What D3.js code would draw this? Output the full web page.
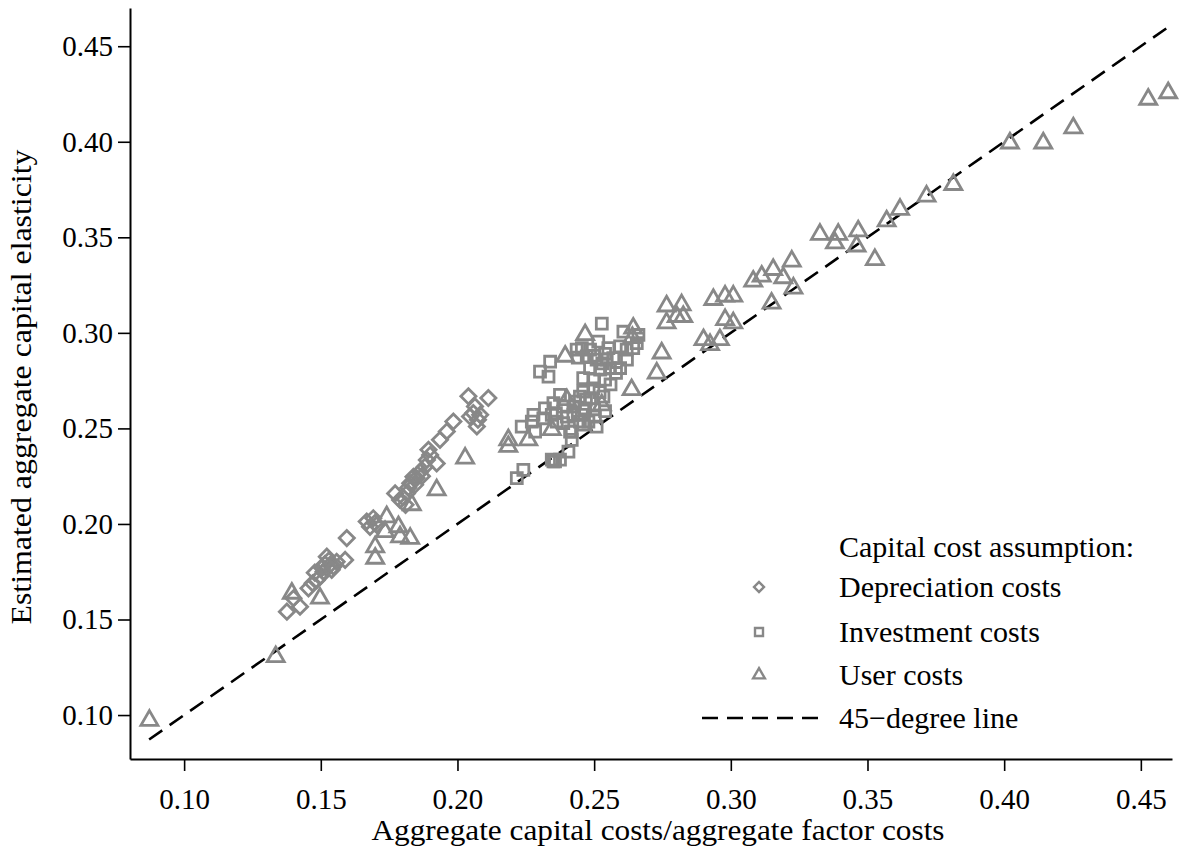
<!DOCTYPE html>
<html>
<head>
<meta charset="utf-8">
<script src="https://cdn.jsdelivr.net/npm/d3@7"></script>
<style>
  body { margin: 0; background: #fff; }
  svg { display: block; font-family: "Liberation Serif", "DejaVu Serif", serif; }
</style>
</head>
<body>
<script>
// data: [capital cost share, estimated elasticity]
const depreciation = [
  [0.1376,0.1541],[0.1424,0.1567],[0.1400,0.1611],[0.1455,0.1663],[0.1485,0.1706],[0.1497,0.1724],
  [0.1510,0.1750],[0.1534,0.1786],[0.1522,0.1829],[0.1546,0.1776],[0.1558,0.1802],[0.1589,0.1812],
  [0.1595,0.1926],[0.1470,0.1690],[0.1515,0.1790],[0.1530,0.1810],[0.1505,0.1770],[0.1540,0.1760],
  [0.1478,0.1745],[0.1668,0.2013],[0.1692,0.2030],[0.1705,0.1995],[0.1680,0.1985],[0.1698,0.2005],
  [0.1772,0.2160],[0.1790,0.2126],[0.1815,0.2160],[0.1827,0.2213],[0.1839,0.2247],[0.1863,0.2273],
  [0.1881,0.2300],[0.1888,0.2335],[0.1900,0.2361],[0.1924,0.2317],[0.1894,0.2388],[0.1936,0.2440],
  [0.1961,0.2484],[0.1985,0.2536],[0.1820,0.2190],[0.1850,0.2240],[0.1800,0.2140],[0.1845,0.2205],
  [0.1870,0.2250],[0.1810,0.2100],[0.2040,0.2668],[0.2113,0.2659],[0.2064,0.2615],[0.2046,0.2562],
  [0.2083,0.2571],[0.2071,0.2510],[0.2058,0.2580],[0.2075,0.2545]
];
const investment = [
  [0.2217,0.2240],[0.2241,0.2283],[0.2351,0.2327],[0.2375,0.2336],[0.2345,0.2336],[0.2357,0.2327],
  [0.2406,0.2378],[0.2418,0.2440],[0.2418,0.2483],[0.2509,0.2509],[0.2235,0.2509],[0.2284,0.2483],
  [0.2272,0.2536],[0.2278,0.2571],[0.2314,0.2553],[0.2345,0.2571],[0.2320,0.2605],[0.2351,0.2632],
  [0.2387,0.2614],[0.2424,0.2614],[0.2400,0.2562],[0.2424,0.2571],[0.2455,0.2571],[0.2467,0.2605],
  [0.2503,0.2562],[0.2448,0.2536],[0.2479,0.2536],[0.2387,0.2527],[0.2363,0.2536],[0.2412,0.2483],
  [0.2375,0.2676],[0.2448,0.2666],[0.2485,0.2658],[0.2534,0.2666],[0.2497,0.2710],[0.2460,0.2692],
  [0.2460,0.2763],[0.2497,0.2755],[0.2540,0.2755],[0.2485,0.2816],[0.2522,0.2807],[0.2558,0.2816],
  [0.2595,0.2816],[0.2570,0.2868],[0.2546,0.2860],[0.2509,0.2860],[0.2473,0.2877],[0.2436,0.2912],
  [0.2455,0.2920],[0.2485,0.2912],[0.2515,0.2954],[0.2552,0.2920],[0.2595,0.2929],[0.2619,0.2912],
  [0.2643,0.2920],[0.2656,0.2946],[0.2662,0.2989],[0.2607,0.3006],[0.2528,0.3048],[0.2302,0.2797],
  [0.2339,0.2849],[0.2333,0.2771],[0.2530,0.2840],[0.2580,0.2790],[0.2620,0.2860],[0.2500,0.2880],
  [0.2440,0.2870],[0.2560,0.2730],[0.2520,0.2690],[0.2430,0.2640],[0.2460,0.2520],[0.2500,0.2600],
  [0.2540,0.2590],[0.2360,0.2580],[0.2470,0.2650],[0.2540,0.2890]
];
const userCosts = [
  [0.0873,0.0972],[0.1335,0.1305],[0.1394,0.1637],[0.1497,0.1611],[0.1699,0.1880],[0.1699,0.1820],
  [0.1741,0.2037],[0.1735,0.1959],[0.1784,0.1985],[0.1790,0.1932],[0.1827,0.1924],[0.1833,0.2100],
  [0.1924,0.2178],[0.2028,0.2344],[0.2186,0.2440],[0.2186,0.2405],[0.2259,0.2440],[0.2345,0.2493],
  [0.2400,0.2650],[0.2528,0.2623],[0.2394,0.2877],[0.2467,0.2990],[0.2643,0.3024],[0.2640,0.2975],
  [0.2637,0.2702],[0.2729,0.2789],[0.2747,0.2894],[0.2765,0.3052],[0.2765,0.3140],[0.2802,0.3085],
  [0.2826,0.3085],[0.2820,0.3146],[0.2900,0.2964],[0.2924,0.2938],[0.2960,0.2964],[0.2979,0.3069],
  [0.3009,0.3052],[0.2936,0.3174],[0.2979,0.3192],[0.3009,0.3192],[0.3082,0.3270],[0.3113,0.3296],
  [0.3155,0.3331],[0.3192,0.3288],[0.3223,0.3375],[0.3229,0.3234],[0.3149,0.3155],[0.3326,0.3515],
  [0.3393,0.3515],[0.3381,0.3470],[0.3466,0.3533],[0.3460,0.3454],[0.3527,0.3383],[0.3570,0.3585],
  [0.3619,0.3646],[0.3716,0.3715],[0.3814,0.3776],[0.4021,0.3993],[0.4143,0.3993],[0.4253,0.4072],
  [0.4527,0.4222],[0.4600,0.4256]
];
const lineEnds = [0.0872, 0.4604];
const ticks = [0.10, 0.15, 0.20, 0.25, 0.30, 0.35, 0.40, 0.45];
const legendTitle = "Capital cost assumption:";
const legendItems = ["Depreciation costs", "Investment costs", "User costs", "45\u2212degree line"];

const W = 1186, H = 846;
const margin = {top: 8, right: 14, bottom: 87, left: 130};
const width = W - margin.left - margin.right;
const height = H - margin.top - margin.bottom;
const grey = "#888888";

const svg = d3.select("body").append("svg")
    .attr("width", W)
    .attr("height", H);
const g = svg.append("g")
    .attr("transform", `translate(${margin.left},${margin.top})`);

const x = d3.scaleLinear().domain([0.0802, 0.4614]).range([0, width]);
const y = d3.scaleLinear().domain([0.077, 0.470]).range([height, 0]);

// axes
const xAxis = g.append("g")
    .attr("transform", `translate(0,${height})`)
    .call(d3.axisBottom(x).tickValues(ticks).tickFormat(d3.format(".2f")).tickSize(12).tickSizeOuter(0));
const yAxis = g.append("g")
    .call(d3.axisLeft(y).tickValues(ticks).tickFormat(d3.format(".2f")).tickSize(12).tickSizeOuter(0));

[xAxis, yAxis].forEach(a => {
  a.select(".domain").attr("stroke", "#000").attr("stroke-width", 2);
  a.selectAll(".tick line").attr("stroke", "#000").attr("stroke-width", 1.6);
  a.selectAll("text").attr("fill", "#000").style("font-family", "Liberation Serif")
    .attr("font-size", 29);
});
xAxis.selectAll("text").attr("y", 50).attr("dy", 0);
yAxis.selectAll("text").attr("x", -17);

// 45-degree line
g.append("line")
    .attr("x1", x(lineEnds[0])).attr("y1", y(lineEnds[0]))
    .attr("x2", x(lineEnds[1])).attr("y2", y(lineEnds[1]))
    .attr("stroke", "#000").attr("stroke-width", 2.6)
    .attr("stroke-dasharray", "16,9");

// markers
const diamond = d3.symbol().type(d3.symbolSquare).size(115);
const square = d3.symbol().type(d3.symbolSquare).size(120);
const triangle = d3.symbol().type(d3.symbolTriangle).size(125);

function drawSeries(data, sym, rotate) {
  g.append("g").selectAll("path")
    .data(data)
    .enter()
    .append("path")
    .attr("d", sym)
    .attr("transform", d => `translate(${x(d[0])},${y(d[1])})` + (rotate ? " rotate(45)" : ""))
    .attr("fill", "none")
    .attr("stroke", grey)
    .attr("stroke-width", 2.8);
}
drawSeries(depreciation, diamond, true);
drawSeries(investment, square, false);
drawSeries(userCosts, triangle, false);

// axis titles
svg.append("text")
    .attr("x", 658).attr("y", 840)
    .attr("text-anchor", "middle")
    .attr("font-size", 29)
    .attr("textLength", 573).attr("lengthAdjust", "spacingAndGlyphs")
    .text("Aggregate capital costs/aggregate factor costs");

svg.append("text")
    .attr("transform", "translate(31,387) rotate(-90)")
    .attr("text-anchor", "middle")
    .attr("font-size", 29)
    .attr("textLength", 475).attr("lengthAdjust", "spacingAndGlyphs")
    .text("Estimated aggregate capital elasticity");

// legend
const leg = svg.append("g").attr("font-size", 30);
leg.append("text")
    .attr("x", 839).attr("y", 557)
    .text(legendTitle);

const legY = [587, 632, 675, 718];
const legSyms = [
  d3.symbol().type(d3.symbolSquare).size(50),
  d3.symbol().type(d3.symbolSquare).size(64),
  d3.symbol().type(d3.symbolTriangle).size(60)
];
legSyms.forEach((s, i) => {
  leg.append("path")
    .attr("d", s)
    .attr("transform", `translate(759,${legY[i]})` + (i === 0 ? " rotate(45)" : ""))
    .attr("fill", "none").attr("stroke", grey).attr("stroke-width", 2.4);
});
leg.append("line")
    .attr("x1", 702).attr("x2", 818)
    .attr("y1", legY[3]).attr("y2", legY[3])
    .attr("stroke", "#000").attr("stroke-width", 2.6)
    .attr("stroke-dasharray", "16,9");

leg.selectAll("text.item")
    .data(legendItems)
    .enter()
    .append("text")
    .attr("class", "item")
    .attr("x", 839)
    .attr("y", (d, i) => legY[i] + 10)
    .text(d => d);
</script>
</body>
</html>
